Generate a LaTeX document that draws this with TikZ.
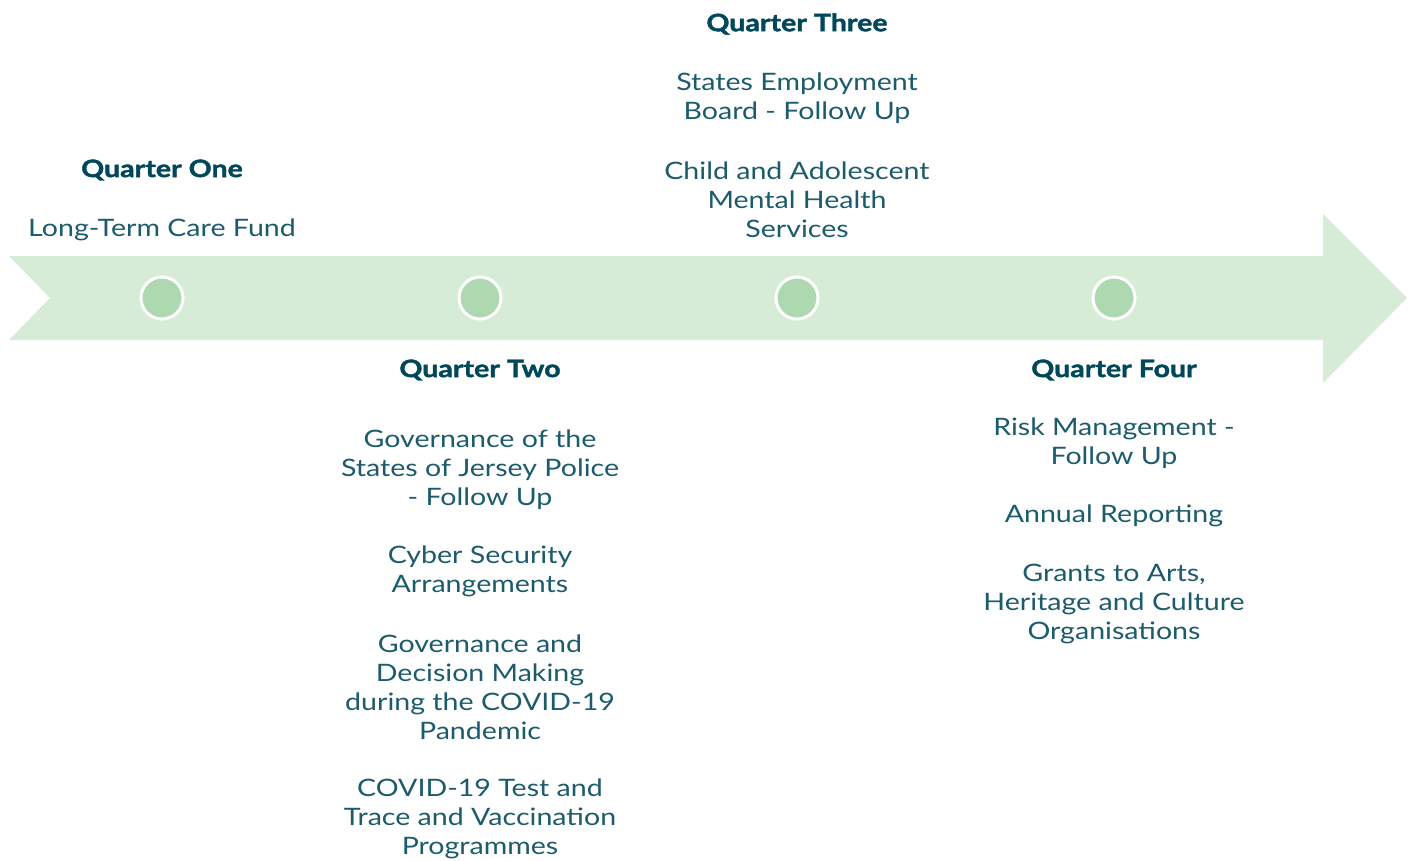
\documentclass[tikz,border=0pt]{standalone}
\usepackage{fontspec}
\setmainfont{Lato}[FakeStretch=1.19,BoldFeatures={FakeBold=1.6}]
\definecolor{band}{HTML}{D7ECD7}
\definecolor{dot}{HTML}{AED8B0}
\definecolor{titlecol}{HTML}{00475A}
\definecolor{bodycol}{HTML}{1B5B6B}
\tikzset{
  qtitle/.style={font=\fontsize{18}{21.75}\selectfont\bfseries, text=titlecol, inner sep=0pt, align=center},
  qitem/.style={font=\fontsize{18}{21.75}\selectfont, text=bodycol, inner sep=0pt, align=center},
  qdot/.style={circle, fill=dot, draw=white, line width=2.25pt, minimum size=31.5pt, inner sep=0pt}
}
\begin{document}
\begin{tikzpicture}[x=0.75pt,y=-0.75pt]
\useasboundingbox (0,0) rectangle (1412,860);
\fill[band] (9,256) -- (1323,256) -- (1323,214) -- (1407,298) -- (1323,383) -- (1323,340) -- (9,340) -- (50,298) -- cycle;
\node[qdot] (d1) at (162,298) {};
\node[qdot] (d2) at (480,298) {};
\node[qdot] (d3) at (797,298) {};
\node[qdot] (d4) at (1114,298) {};
% Quarter One
\node[qtitle] (t1) at (162,170) {Quarter One};
\node[qitem] (a1) at (162,229.5) {Long-Term Care Fund};
% Quarter Three
\node[qtitle] (t3) at (797,24) {Quarter Three};
\node[qitem] (c1) at (797,98) {States Employment\\Board - Follow Up};
\node[qitem] (c2) at (797,199.5) {Child and Adolescent\\Mental Health\\Services};
% Quarter Two
\node[qtitle] (t2) at (480,370) {Quarter Two};
\node[qitem] (b1) at (480,469.5) {Governance of the\\States of Jersey Police\\- Follow Up};
\node[qitem] (b2) at (480,571) {Cyber Security\\Arrangements};
\node[qitem] (b3) at (480,687.5) {Governance and\\Decision Making\\during the COVID-19\\Pandemic};
\node[qitem] (b4) at (480,818.5) {COVID-19 Test and\\Trace and Vaccination\\Programmes};
% Quarter Four
\node[qtitle] (t4) at (1114,370) {Quarter Four};
\node[qitem] (e1) at (1114,443) {Risk Management -\\Follow Up};
\node[qitem] (e2) at (1114,515.5) {Annual Reporting};
\node[qitem] (e3) at (1114,603.5) {Grants to Arts,\\Heritage and Culture\\Organisations};
\end{tikzpicture}
\end{document}
